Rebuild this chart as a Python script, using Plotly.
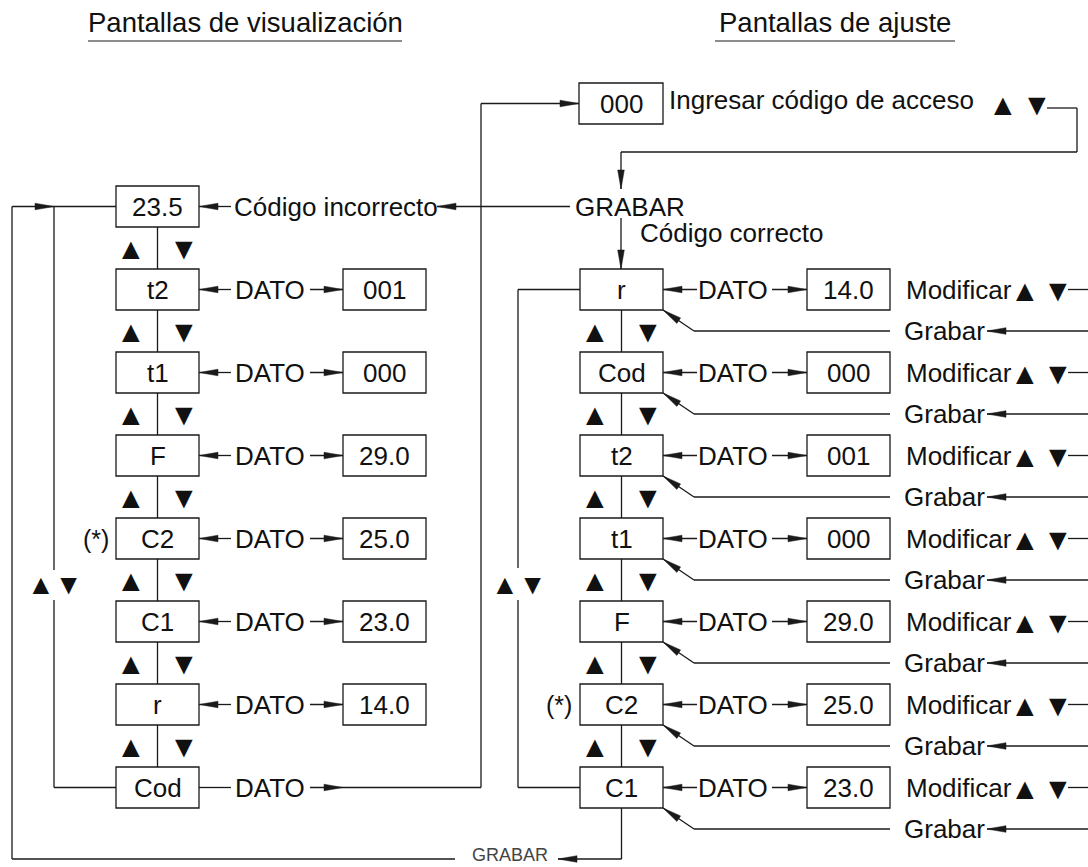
import math
import plotly.graph_objects as go

# ---------------- data ----------------
titles = ["Pantallas de visualización", "Pantallas de ajuste"]
left_labels = ["23.5", "t2", "t1", "F", "C2", "C1", "r", "Cod"]
left_values = [None, "001", "000", "29.0", "25.0", "23.0", "14.0", None]
right_labels = ["r", "Cod", "t2", "t1", "F", "C2", "C1"]
right_values = ["14.0", "000", "001", "000", "29.0", "25.0", "23.0"]
access_code = "000"
texts = {
    "ingresar": "Ingresar código de acceso",
    "incorrecto": "Código incorrecto",
    "correcto": "Código correcto",
    "grabar_top": "GRABAR",
    "grabar_bottom": "GRABAR",
    "dato": "DATO",
    "modificar": "Modificar",
    "grabar": "Grabar",
    "star": "(*)",
}

# ---------------- layout constants ----------------
W, H = 1088, 867
ROW0, STEP, BH = 206.5, 83, 20.5
LB0, LB1 = 116, 199          # left column label box
LV0, LV1 = 343, 426          # left column value box
DX = 464                     # offset of right column
LC = "#1a1a1a"
LW = 1.3
FONT = "Liberation Sans, Arial, sans-serif"
FS = 26
TRI = 30

shapes = []
annots = []


def line(x0, y0, x1, y1, color=LC, width=LW):
    shapes.append(dict(type="line", x0=x0, y0=y0, x1=x1, y1=y1,
                       line=dict(color=color, width=width), layer="above"))


def poly(pts, color=LC):
    path = "M " + " L ".join(f"{x},{y}" for x, y in pts) + " Z"
    shapes.append(dict(type="path", path=path, fillcolor=color,
                       line=dict(color=color, width=0.5), layer="above"))


def head(tx, ty, fx, fy, L=19, w=3.3):
    dx, dy = tx - fx, ty - fy
    n = math.hypot(dx, dy)
    ux, uy = dx / n, dy / n
    bx, by = tx - ux * L, ty - uy * L
    px, py = -uy * w, ux * w
    poly([(tx, ty), (bx + px, by + py), (bx - px, by - py)])


def arrow(fx, fy, tx, ty):
    line(fx, fy, tx, ty)
    head(tx, ty, fx, fy)


def rect(x0, y0, x1, y1):
    shapes.append(dict(type="rect", x0=x0, y0=y0, x1=x1, y1=y1,
                       line=dict(color=LC, width=LW), fillcolor="rgba(0,0,0,0)",
                       layer="above"))


def text(x, y, s, size=FS, anchor="center", color="#111", yshift=0):
    annots.append(dict(x=x, y=y, text=s, showarrow=False, xanchor=anchor,
                       yanchor="middle", yshift=yshift, borderpad=0,
                       font=dict(family=FONT, size=size, color=color)))


def updown(xu, xd, y, size=TRI):
    text(xu, y, "▲", size=size)
    text(xd, y, "▼", size=size)


# ---------------- titles ----------------
text(245, 22, titles[0], size=27.5)
line(88, 41, 402, 41, width=1.2)
text(835, 22, titles[1], size=27.5)
line(715, 41, 955, 41, width=1.2)

# ---------------- left column (visualización) ----------------
LCX = (LB0 + LB1) / 2
for i, lab in enumerate(left_labels):
    cy = ROW0 + STEP * i
    rect(LB0, cy - BH, LB1, cy + BH)
    text(LCX, cy, lab)
    if i < len(left_labels) - 1:
        line(LCX, cy + BH, LCX, cy + STEP - BH)
        updown(LCX - 27, LCX + 26, cy + STEP / 2)
    val = left_values[i]
    if val is not None:
        arrow(231, cy, LB1, cy)
        text(270, cy, texts["dato"])
        arrow(310, cy, LV0, cy)
        rect(LV0, cy - BH, LV1, cy + BH)
        text((LV0 + LV1) / 2, cy, val)
    if lab == "C2":
        text(96, cy, texts["star"], size=FS - 1)
    if i == 0:
        arrow(231, cy, LB1, cy)
        text(233, cy, texts["incorrecto"], anchor="left")
    if i == len(left_labels) - 1:
        line(LB1, cy, 231, cy)
        text(270, cy, texts["dato"])
        line(310, cy, 481, cy)
        head(LV0, cy, 310, cy)

# left loop
top_y = ROW0
cod_y = ROW0 + STEP * (len(left_labels) - 1)
bottom_y = 859
line(12, top_y, LB0, top_y)
head(54, top_y, 30, top_y)
line(54, top_y, 54, 570)
line(54, 600, 54, cod_y)
line(54, cod_y, LB0, cod_y)
text(54, 584, "▲▼", size=28)
line(12, top_y, 12, bottom_y)
line(12, bottom_y, 455, bottom_y)

# path from Cod DATO up to access code box
acc_y = 103.5
line(481, cod_y, 481, acc_y)
arrow(481, acc_y, 579, acc_y)
rect(579, acc_y - BH, 663, acc_y + BH)
text(621, acc_y, access_code)
text(668, 100, texts["ingresar"], anchor="left")
updown(1003, 1037, 104)
line(1047, 108, 1077, 108)
line(1077, 108, 1077, 152)
line(1077, 152, 621, 152)
arrow(621, 152, 621, 189)
text(630, 206.5, texts["grabar_top"])
arrow(570, 206.5, 437, 206.5)
arrow(621, 218, 621, ROW0 + STEP - BH)
text(639, 233, texts["correcto"], anchor="left")

# ---------------- right column (ajuste) ----------------
RB0, RB1 = LB0 + DX, LB1 + DX
RV0, RV1 = LV0 + DX, LV1 + DX
RCX = (RB0 + RB1) / 2
for j, lab in enumerate(right_labels):
    cy = ROW0 + STEP * (j + 1)
    rect(RB0, cy - BH, RB1, cy + BH)
    text(RCX, cy, lab)
    if lab == "C2":
        text(559, cy, texts["star"], size=FS - 1)
    if j < len(right_labels) - 1:
        line(RCX, cy + BH, RCX, cy + STEP - BH)
        updown(RCX - 27, RCX + 26, cy + STEP / 2)
    arrow(697, cy, RB1, cy)
    text(733, cy, texts["dato"])
    arrow(772, cy, RV0, cy)
    rect(RV0, cy - BH, RV1, cy + BH)
    text((RV0 + RV1) / 2, cy, right_values[j])
    text(905, cy, texts["modificar"], anchor="left")
    updown(1025, 1058, cy + 1)
    line(1068, cy, W, cy)
    gy = cy + STEP / 2
    text(903, gy, texts["grabar"], anchor="left")
    arrow(W, gy, 987, gy)
    line(890, gy, 694, gy)
    arrow(694, gy, RB1, cy + BH)

# right loop
r_y = ROW0 + STEP
c1_y = ROW0 + STEP * len(right_labels)
line(518, r_y, RB0, r_y)
line(518, r_y, 518, 568)
line(518, 600, 518, c1_y)
line(518, c1_y, RB0, c1_y)
text(518, 584, "▲▼", size=28)

# bottom GRABAR return
line(RCX, c1_y + BH, RCX, bottom_y)
arrow(RCX, bottom_y, 558, bottom_y)
text(510, 855, texts["grabar_bottom"], size=18, color="#444")

fig = go.Figure()
fig.update_layout(
    width=W, height=H,
    margin=dict(l=0, r=0, t=0, b=0),
    paper_bgcolor="white", plot_bgcolor="white",
    xaxis=dict(range=[0, W], visible=False, fixedrange=True),
    yaxis=dict(range=[H, 0], visible=False, fixedrange=True),
    shapes=shapes, annotations=annots, showlegend=False,
)
fig.write_html(
    "out.html",
    config={"displayModeBar": False},
    post_script="document.body.style.margin='0';document.body.style.padding='0';"
                "document.body.style.overflow='hidden';",
)
